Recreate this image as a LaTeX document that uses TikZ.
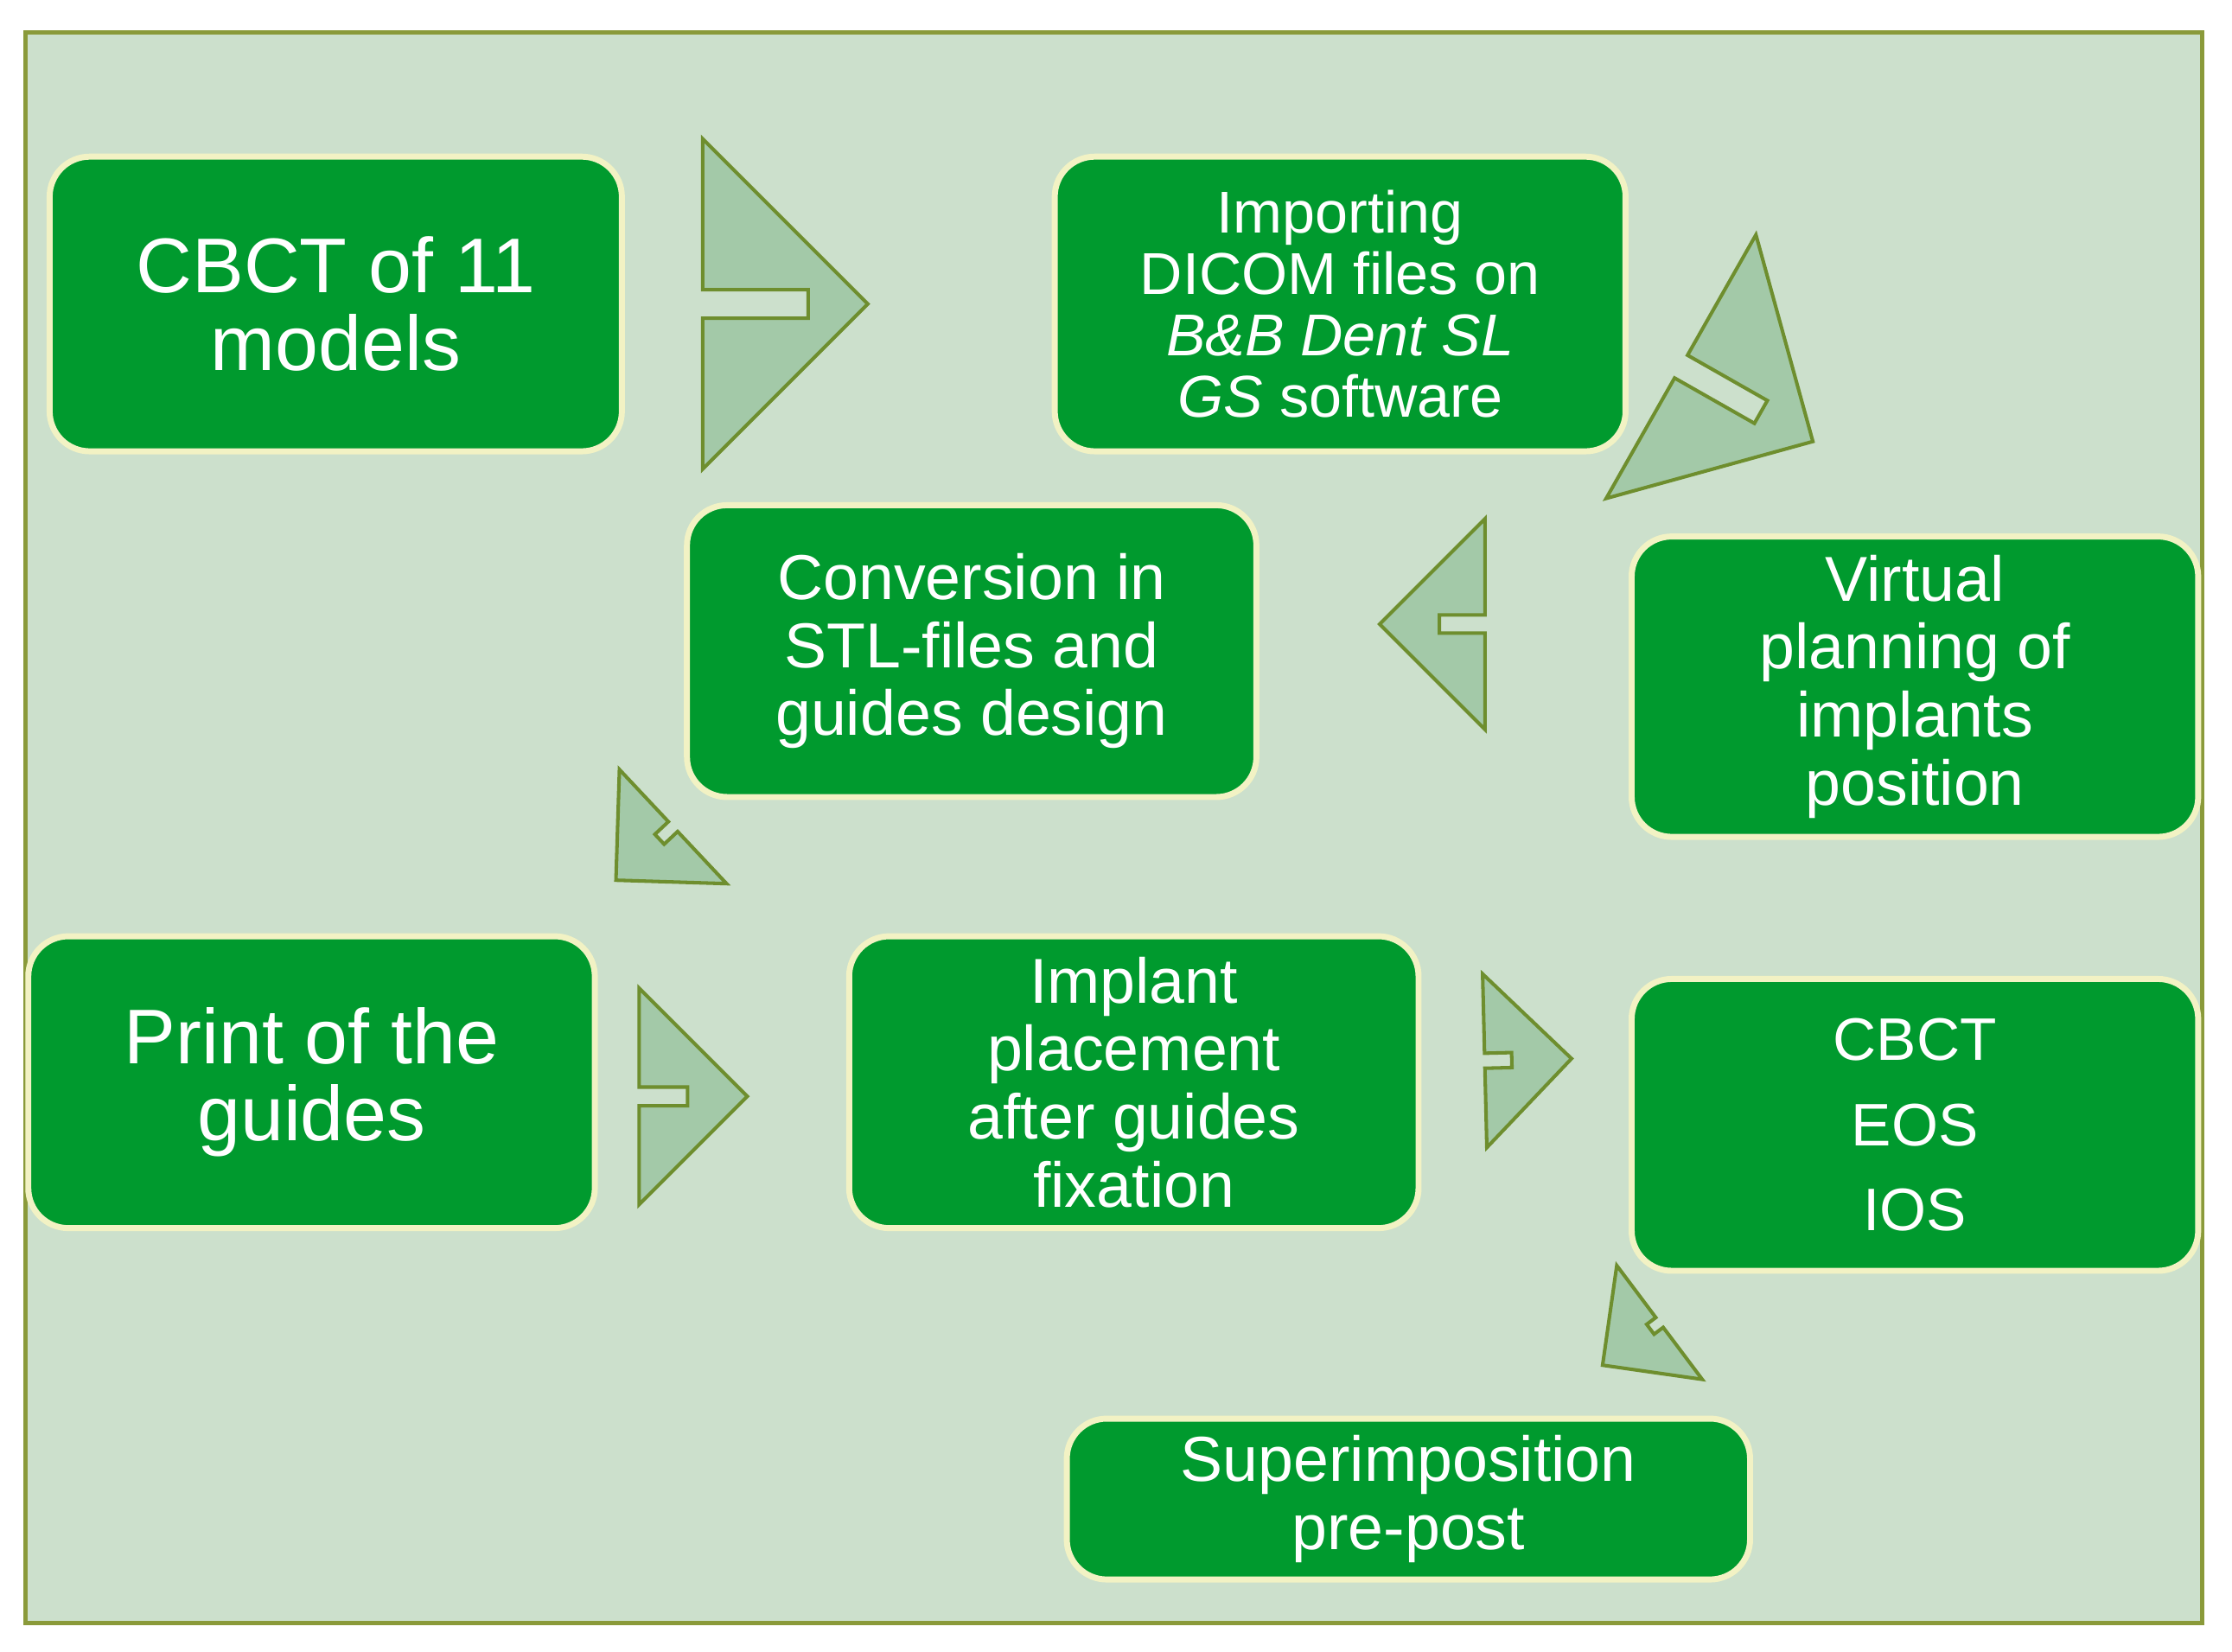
\documentclass[tikz,border=0pt]{standalone}
\usepackage{fontspec}
\setmainfont{Liberation Sans}
\usetikzlibrary{shapes.arrows}
\definecolor{bg}{HTML}{CCE0CC}
\definecolor{frame}{HTML}{8A9A3A}
\definecolor{box}{HTML}{009A2E}
\definecolor{boxline}{HTML}{F2F2C4}
\definecolor{arr}{HTML}{A3C9A8}
\definecolor{arrline}{HTML}{6E8E2E}
\begin{document}
\begin{tikzpicture}[
  box/.style={draw=boxline,line width=1.2pt,fill=box,rounded corners=8pt,text=white,align=center,font=\fontsize{12.7}{13.6}\selectfont,inner sep=0pt},
  arw/.style={single arrow,draw=arrline,fill=arr,line width=0.7pt,minimum height=0.42cm,single arrow head extend=0.13cm,inner sep=0pt}]
\useasboundingbox (0,0) rectangle (15.68,11.6);
\begin{scope}[x=0.01cm,y=-0.01cm,shift={(0,-1160)}]
\draw[frame,fill=bg,line width=0.8pt] (18,22) rectangle (1548,1140);
\node[box,minimum width=4.02cm,minimum height=2.07cm,font=\fontsize{15.5}{15.5}\selectfont] (b1) at (236,213) {CBCT of 11\\models};
\node[box,minimum width=4.01cm,minimum height=2.07cm,font=\fontsize{11.8}{12.3}\selectfont] (b2) at (942,213) {Importing\\DICOM files on\\\textit{B\&B Dent SL}\\\textit{GS} software};
\node[box,minimum width=3.98cm,minimum height=2.11cm] (b3) at (1346,482) {Virtual\\planning of\\implants\\position};
\node[box,minimum width=4.0cm,minimum height=2.05cm] (b4) at (683,457) {Conversion in\\STL-files and\\guides design};
\node[box,minimum width=3.98cm,minimum height=2.05cm,font=\fontsize{15.5}{15.5}\selectfont] (b5) at (219,760) {Print of the\\guides};
\node[box,minimum width=4.0cm,minimum height=2.05cm] (b6) at (797,760) {Implant\\placement\\after guides\\fixation};
\node[box,minimum width=3.98cm,minimum height=2.05cm,font=\fontsize{12}{17}\selectfont] (b7) at (1346,790) {CBCT\\EOS\\IOS};
\node[box,minimum width=4.8cm,minimum height=1.13cm] (b8) at (990,1053) {Superimposition\\pre-post};
\node[arw,minimum width=2.32cm] (a1) at (584,213) {};
\node[arw,minimum width=2.13cm,rotate=-29.6] (a2) at (1252,297) {};
\node[arw,minimum width=1.48cm,rotate=180] (a3) at (994,438) {};
\node[arw,minimum width=1.10cm,rotate=223.2] (a4) at (450,602) {};
\node[arw,minimum width=1.52cm] (a5) at (501,770) {};
\node[arw,minimum width=1.22cm,rotate=1.4] (a6) at (1081,744) {};
\node[arw,minimum width=1.0cm,rotate=216.9] (a7) at (1145,945) {};
\end{scope}
\end{tikzpicture}
\end{document}
